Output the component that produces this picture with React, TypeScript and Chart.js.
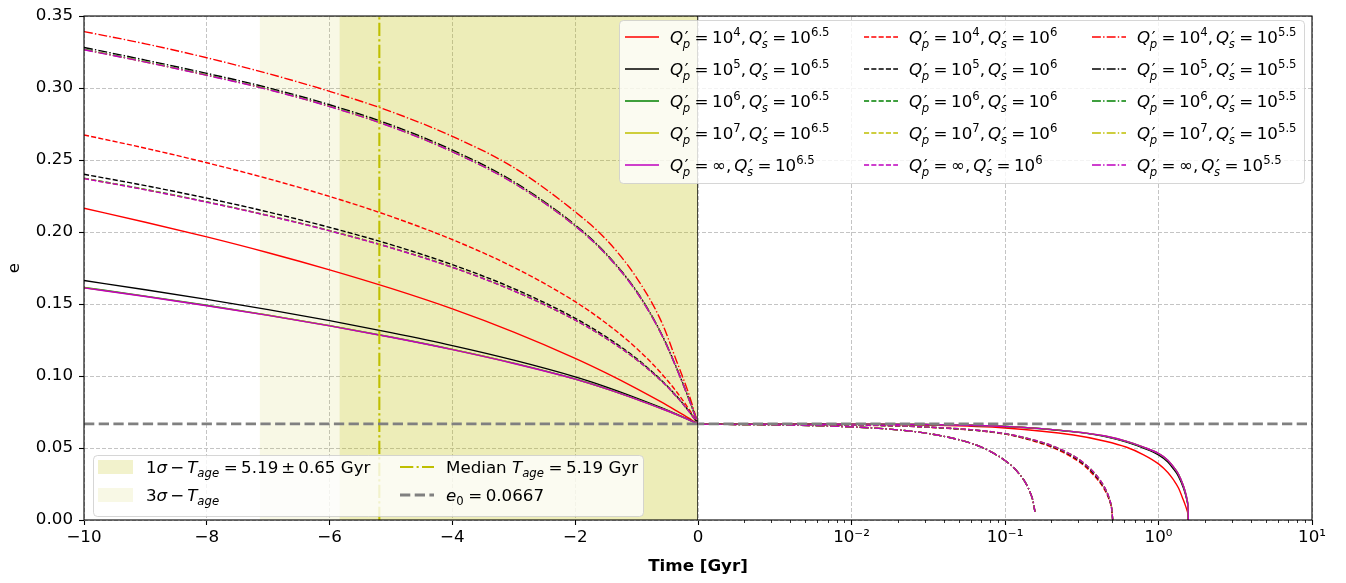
import React, { useEffect, useRef } from 'react';
import { Chart, registerables } from 'chart.js';

Chart.register(...registerables);

const FONT = '"DejaVu Sans"';
const FS = 16.7;

// ---------- axes ----------
const X_LIN_MIN = -10;
const X_LIN_MAX = 0;
const X_LIN_STEP = 2;
const X_LOG_MIN = 0.001;
const X_LOG_MAX = 10;
const Y_MIN = 0;
const Y_MAX = 0.35;
const Y_STEP = 0.05;
const LOG_MAJOR = [0.001, 0.01, 0.1, 1, 10];
const LOG_MAJOR_LABELS = ['', '10⁻²', '10⁻¹', '10⁰', '10¹'];
const LOG_MINOR_MULT = [2, 3, 4, 5, 6, 7, 8, 9];
const LOG_DECADES = [0.001, 0.01, 0.1, 1];

// ---------- reference values ----------
const T_AGE = 5.19;
const T_SIGMA = 0.65;
const E0 = 0.0667;

// ---------- past evolution (linear time axis, Gyr) ----------
const T_PAST = [-10, -9, -8, -7, -6, -5, -4, -3, -2, -1.5, -1, -0.6, -0.35, -0.15, -0.05, 0];

// Q's = 10^6.5 (solid)
const PAST_S65_P4 = [0.2165, 0.2068, 0.1966, 0.1856, 0.1737, 0.1608, 0.1466, 0.1305, 0.1123, 0.1022, 0.0913, 0.0820, 0.0758, 0.0707, 0.0680, 0.0667];
const PAST_S65_P5 = [0.1663, 0.1599, 0.1532, 0.1461, 0.1385, 0.1301, 0.1211, 0.1110, 0.0994, 0.0925, 0.0847, 0.0780, 0.0735, 0.0697, 0.0677, 0.0667];
const PAST_S65_P6 = [0.1615, 0.1555, 0.1491, 0.1423, 0.1350, 0.1271, 0.1185, 0.1089, 0.0979, 0.0913, 0.0839, 0.0775, 0.0732, 0.0695, 0.0677, 0.0667];
const PAST_S65_P7 = [0.1613, 0.1553, 0.1489, 0.1422, 0.1349, 0.1270, 0.1184, 0.1088, 0.0978, 0.0912, 0.0838, 0.0774, 0.0732, 0.0695, 0.0677, 0.0667];
const PAST_S65_PINF = [0.1612, 0.1552, 0.1488, 0.1421, 0.1348, 0.1269, 0.1183, 0.1087, 0.0978, 0.0912, 0.0838, 0.0774, 0.0732, 0.0695, 0.0677, 0.0667];

// Q's = 10^6 (dashed)
const PAST_S6_P4 = [0.2674, 0.2582, 0.2481, 0.2370, 0.2247, 0.2108, 0.1947, 0.1755, 0.1516, 0.1368, 0.1192, 0.1020, 0.0891, 0.0771, 0.0703, 0.0667];
const PAST_S6_P5 = [0.2401, 0.2322, 0.2235, 0.2139, 0.2032, 0.1912, 0.1773, 0.1607, 0.1401, 0.1273, 0.1121, 0.0972, 0.0861, 0.0757, 0.0698, 0.0667];
const PAST_S6_P6 = [0.2374, 0.2296, 0.2210, 0.2115, 0.2010, 0.1892, 0.1756, 0.1592, 0.1389, 0.1263, 0.1114, 0.0968, 0.0858, 0.0756, 0.0698, 0.0667];
const PAST_S6_P7 = [0.2372, 0.2294, 0.2208, 0.2114, 0.2009, 0.1891, 0.1755, 0.1591, 0.1388, 0.1262, 0.1113, 0.0967, 0.0857, 0.0755, 0.0698, 0.0667];
const PAST_S6_PINF = [0.2371, 0.2293, 0.2207, 0.2113, 0.2008, 0.1890, 0.1754, 0.1591, 0.1388, 0.1262, 0.1113, 0.0967, 0.0857, 0.0755, 0.0698, 0.0667];

// Q's = 10^5.5 (dash-dot)
const PAST_S55_P4 = [0.3392, 0.3307, 0.3210, 0.3100, 0.2977, 0.2836, 0.2664, 0.2448, 0.2140, 0.1950, 0.1682, 0.1381, 0.1105, 0.0876, 0.0738, 0.0667];
const PAST_S55_P5 = [0.3282, 0.3194, 0.3102, 0.3002, 0.2884, 0.2744, 0.2569, 0.2349, 0.2049, 0.1852, 0.1589, 0.1297, 0.1057, 0.0843, 0.0728, 0.0667];
const PAST_S55_P6 = [0.3269, 0.3183, 0.3091, 0.2992, 0.2874, 0.2734, 0.2559, 0.2341, 0.2043, 0.1847, 0.1585, 0.1294, 0.1055, 0.0842, 0.0727, 0.0667];
const PAST_S55_P7 = [0.3267, 0.3181, 0.3089, 0.2990, 0.2872, 0.2732, 0.2558, 0.2340, 0.2042, 0.1846, 0.1584, 0.1293, 0.1054, 0.0841, 0.0727, 0.0667];
const PAST_S55_PINF = [0.3266, 0.3180, 0.3088, 0.2989, 0.2871, 0.2731, 0.2557, 0.2339, 0.2041, 0.1845, 0.1583, 0.1293, 0.1054, 0.0841, 0.0727, 0.0667];

// ---------- future evolution (log time axis, Gyr) ----------
const T_FUT_S65 = [0.001, 0.003, 0.01, 0.03, 0.1, 0.28, 0.45, 0.62, 0.8, 1.0, 1.15, 1.25, 1.35, 1.45, 1.5, 1.535, 1.555, 1.565];
const FUT_S65_P4 = [0.0667, 0.0667, 0.0665, 0.0659, 0.0639, 0.0590, 0.0547, 0.0505, 0.0453, 0.0390, 0.0330, 0.0280, 0.0222, 0.0140, 0.0098, 0.0066, 0.0040, 0.0];
const FUT_S65_P5 = [0.0667, 0.0667, 0.0666, 0.0663, 0.0649, 0.0612, 0.0580, 0.0541, 0.0499, 0.0452, 0.0403, 0.0356, 0.0303, 0.0226, 0.0176, 0.0131, 0.0089, 0.0];
const FUT_S65_P6 = [0.0667, 0.0667, 0.0666, 0.0663, 0.0650, 0.0614, 0.0582, 0.0545, 0.0505, 0.0461, 0.0414, 0.0369, 0.0317, 0.0239, 0.0187, 0.0139, 0.0094, 0.0];
const FUT_S65_P7 = [0.0667, 0.0667, 0.0666, 0.0663, 0.0650, 0.0614, 0.0583, 0.0546, 0.0506, 0.0462, 0.0415, 0.0370, 0.0318, 0.0240, 0.0188, 0.0140, 0.0095, 0.0];
const FUT_S65_PINF = [0.0667, 0.0667, 0.0666, 0.0663, 0.0650, 0.0614, 0.0583, 0.0546, 0.0506, 0.0462, 0.0415, 0.0370, 0.0318, 0.0240, 0.0188, 0.0140, 0.0095, 0.0];

const T_FUT_S6 = [0.001, 0.003, 0.01, 0.03, 0.1, 0.169, 0.2, 0.279, 0.33, 0.376, 0.42, 0.46, 0.48, 0.495, 0.503];
const FUT_S6_P4 = [0.0666, 0.0665, 0.0659, 0.0645, 0.0596, 0.0535, 0.0507, 0.0430, 0.0374, 0.0314, 0.0252, 0.0182, 0.0132, 0.0078, 0.0];
const FUT_S6_P5 = [0.0666, 0.0665, 0.0660, 0.0646, 0.0598, 0.0540, 0.0513, 0.0439, 0.0383, 0.0325, 0.0262, 0.0190, 0.0138, 0.0081, 0.0];
const FUT_S6_P6 = [0.0666, 0.0665, 0.0660, 0.0647, 0.0599, 0.0543, 0.0517, 0.0445, 0.0390, 0.0334, 0.0270, 0.0196, 0.0142, 0.0083, 0.0];
const FUT_S6_P7 = [0.0666, 0.0665, 0.0660, 0.0647, 0.0600, 0.0544, 0.0518, 0.0446, 0.0391, 0.0335, 0.0271, 0.0197, 0.0143, 0.0084, 0.0];
const FUT_S6_PINF = [0.0666, 0.0665, 0.0660, 0.0647, 0.0600, 0.0544, 0.0518, 0.0446, 0.0391, 0.0335, 0.0271, 0.0197, 0.0143, 0.0084, 0.0];

const T_FUT_S55 = [0.001, 0.003, 0.0084, 0.0229, 0.04, 0.0622, 0.08, 0.1, 0.115, 0.125, 0.135, 0.146, 0.152, 0.1567];
const FUT_S55_P4 = [0.0665, 0.0661, 0.0650, 0.0620, 0.0581, 0.0528, 0.0477, 0.0413, 0.0359, 0.0314, 0.0265, 0.0190, 0.0135, 0.0057];
const FUT_S55_P5 = [0.0665, 0.0661, 0.0650, 0.0620, 0.0581, 0.0528, 0.0477, 0.0413, 0.0359, 0.0314, 0.0265, 0.0190, 0.0135, 0.0057];
const FUT_S55_P6 = [0.0665, 0.0661, 0.0650, 0.0620, 0.0581, 0.0528, 0.0477, 0.0413, 0.0359, 0.0314, 0.0265, 0.0190, 0.0135, 0.0057];
const FUT_S55_P7 = [0.0665, 0.0661, 0.0650, 0.0620, 0.0581, 0.0528, 0.0477, 0.0413, 0.0359, 0.0314, 0.0265, 0.0190, 0.0135, 0.0057];
const FUT_S55_PINF = [0.0665, 0.0661, 0.0650, 0.0620, 0.0581, 0.0528, 0.0477, 0.0413, 0.0359, 0.0314, 0.0265, 0.0190, 0.0135, 0.0057];

// ---------- series meta ----------
const QP_EXP: (string | null)[] = ['4', '5', '6', '7', null];
const QS_EXP = ['6.5', '6', '5.5'];
const QP_COLORS = ['#ff0000', '#000000', '#008000', '#bfbf00', '#bf00bf'];
const QS_DASH: number[][] = [[], [5.1, 2.2], [8.9, 2.2, 1.4, 2.2]];

const PAST_GROUPS = [
  [PAST_S65_P4, PAST_S65_P5, PAST_S65_P6, PAST_S65_P7, PAST_S65_PINF],
  [PAST_S6_P4, PAST_S6_P5, PAST_S6_P6, PAST_S6_P7, PAST_S6_PINF],
  [PAST_S55_P4, PAST_S55_P5, PAST_S55_P6, PAST_S55_P7, PAST_S55_PINF],
];
const FUT_TIMES = [T_FUT_S65, T_FUT_S6, T_FUT_S55];
const FUT_GROUPS = [
  [FUT_S65_P4, FUT_S65_P5, FUT_S65_P6, FUT_S65_P7, FUT_S65_PINF],
  [FUT_S6_P4, FUT_S6_P5, FUT_S6_P6, FUT_S6_P7, FUT_S6_PINF],
  [FUT_S55_P4, FUT_S55_P5, FUT_S55_P6, FUT_S55_P7, FUT_S55_PINF],
];

const LINE_W = 1.4;
const BAND_1S_COLOR = 'rgba(191,191,0,0.2)';
const BAND_3S_COLOR = 'rgba(191,191,0,0.1)';
const MEDIAN_COLOR = '#bfbf00';
const E0_COLOR = '#808080';
const GRID_COLOR = '#c4c4c4';

const pts = (xs: number[], ys: number[]) => xs.map((x, i) => ({ x, y: ys[i] }));

// ---------- rich text ----------
type Seg =
  | { t: string; i?: boolean; pos?: 'sup' | 'sub' }
  | { g: number }
  | { stack: [string, string] };

const fontStr = (size: number, italic = false, bold = false) =>
  `${italic ? 'italic ' : ''}${bold ? 'bold ' : ''}${size}px ${FONT}`;

function drawRich(ctx: CanvasRenderingContext2D, segs: Seg[], x: number, y: number) {
  let cx = x;
  for (const s of segs) {
    if ('g' in s) {
      cx += s.g;
    } else if ('stack' in s) {
      ctx.font = fontStr(FS);
      ctx.fillText(s.stack[0], cx + 1.5, y);
      const w1 = ctx.measureText(s.stack[0]).width + 1.5;
      ctx.font = fontStr(FS * 0.7, true);
      ctx.fillText(s.stack[1], cx - 0.5, y + FS * 0.3);
      const w2 = ctx.measureText(s.stack[1]).width - 0.5;
      cx += Math.max(w1, w2);
    } else {
      const small = s.pos === 'sup' || s.pos === 'sub';
      ctx.font = fontStr(small ? FS * 0.7 : FS, !!s.i);
      const dy = s.pos === 'sup' ? -FS * 0.42 : s.pos === 'sub' ? FS * 0.24 : 0;
      ctx.fillText(s.t, cx, y + dy);
      cx += ctx.measureText(s.t).width;
    }
  }
}

const EQ: Seg[] = [{ g: 4.5 }, { t: '=' }, { g: 3.5 }];

function qLabel(qp: string | null, qs: string): Seg[] {
  const segs: Seg[] = [{ t: 'Q', i: true }, { stack: ['′', 'p'] }, ...EQ];
  if (qp === null) segs.push({ t: '∞' });
  else segs.push({ t: '10' }, { t: qp, pos: 'sup' });
  segs.push({ t: ',' }, { g: 3 }, { t: 'Q', i: true }, { stack: ['′', 's'] }, ...EQ, { t: '10' }, { t: qs, pos: 'sup' });
  return segs;
}

const LBL_1S: Seg[] = [{ t: '1' }, { t: 'σ', i: true }, { g: 3 }, { t: '−' }, { g: 3 }, { t: 'T', i: true }, { t: 'age', i: true, pos: 'sub' }, ...EQ, { t: `${T_AGE.toFixed(2)}` }, { g: 3 }, { t: '±' }, { g: 3 }, { t: `${T_SIGMA.toFixed(2)} Gyr` }];
const LBL_3S: Seg[] = [{ t: '3' }, { t: 'σ', i: true }, { g: 3 }, { t: '−' }, { g: 3 }, { t: 'T', i: true }, { t: 'age', i: true, pos: 'sub' }];
const LBL_MED: Seg[] = [{ t: 'Median ' }, { t: 'T', i: true }, { t: 'age', i: true, pos: 'sub' }, ...EQ, { t: `${T_AGE.toFixed(2)} Gyr` }];
const LBL_E0: Seg[] = [{ t: 'e', i: true }, { t: '0', pos: 'sub' }, ...EQ, { t: `${E0}` }];

function legendBox(ctx: CanvasRenderingContext2D, x: number, y: number, w: number, h: number) {
  ctx.beginPath();
  (ctx as any).roundRect(x + 0.5, y + 0.5, w, h, 4);
  ctx.fillStyle = 'rgba(255,255,255,0.8)';
  ctx.fill();
  ctx.strokeStyle = 'rgba(204,204,204,0.8)';
  ctx.lineWidth = 1;
  ctx.setLineDash([]);
  ctx.stroke();
}

function handleLine(ctx: CanvasRenderingContext2D, x: number, y: number, len: number, color: string, width: number, dash: number[]) {
  ctx.beginPath();
  ctx.strokeStyle = color;
  ctx.lineWidth = width;
  ctx.setLineDash(dash);
  ctx.moveTo(x, y);
  ctx.lineTo(x + len, y);
  ctx.stroke();
  ctx.setLineDash([]);
}

// ---------- plugins ----------
const splitAxesPlugin = {
  id: 'splitAxes',
  afterLayout(chart: any) {
    const a = chart.chartArea;
    const mid = (a.left + a.right) / 2;
    const pairs: [any, number, number][] = [
      [chart.scales.xLin, a.left, mid],
      [chart.scales.xLog, mid, a.right],
    ];
    for (const [s, l, r] of pairs) {
      s.left = l;
      s.right = r;
      s.width = r - l;
      s.top = a.bottom;
      s.bottom = chart.height;
      s.height = chart.height - a.bottom;
      s.configure();
    }
  },
};

const framePlugin = {
  id: 'frame',
  afterDatasetsDraw(chart: any) {
    const { ctx, chartArea: a } = chart;
    ctx.save();
    ctx.strokeStyle = '#000';
    ctx.lineWidth = 1.1;
    ctx.setLineDash([]);
    ctx.strokeRect(a.left, a.top, a.right - a.left, a.bottom - a.top);
    const xg = chart.scales.xLog;
    ctx.lineWidth = 0.8;
    for (const d of LOG_DECADES) {
      for (const m of LOG_MINOR_MULT) {
        const px = Math.round(xg.getPixelForValue(d * m)) + 0.5;
        ctx.beginPath();
        ctx.moveTo(px, a.bottom);
        ctx.lineTo(px, a.bottom + 3);
        ctx.stroke();
      }
    }
    ctx.restore();
  },
};

const legendPlugin = {
  id: 'customLegends',
  afterDraw(chart: any) {
    const { ctx, chartArea: a } = chart;
    ctx.save();
    ctx.textBaseline = 'alphabetic';
    ctx.textAlign = 'left';

    // upper-right legend
    legendBox(ctx, 619, 20, 685, 163);
    const colHandle = [625, 864, 1092];
    for (let c = 0; c < 3; c++) {
      for (let r = 0; r < 5; r++) {
        const yc = 37 + r * 32;
        handleLine(ctx, colHandle[c], yc, 34, QP_COLORS[r], LINE_W, QS_DASH[c]);
        ctx.fillStyle = '#000';
        drawRich(ctx, qLabel(QP_EXP[r], QS_EXP[c]), colHandle[c] + 45, yc + 6);
      }
    }

    // lower-left legend
    legendBox(ctx, 93, 455, 550, 61);
    const r1 = 467, r2 = 495;
    ctx.fillStyle = BAND_1S_COLOR;
    ctx.fillRect(98, r1 - 7, 35, 14);
    ctx.fillStyle = BAND_3S_COLOR;
    ctx.fillRect(98, r2 - 7, 35, 14);
    ctx.fillStyle = '#000';
    drawRich(ctx, LBL_1S, 146, r1 + 6);
    drawRich(ctx, LBL_3S, 146, r2 + 6);
    handleLine(ctx, 400, r1, 34, MEDIAN_COLOR, 2.1, [13.3, 3.3, 2.1, 3.3]);
    handleLine(ctx, 400, r2, 34, E0_COLOR, 2.8, [10.3, 4.4]);
    ctx.fillStyle = '#000';
    drawRich(ctx, LBL_MED, 446, r1 + 6);
    drawRich(ctx, LBL_E0, 446, r2 + 6);

    // axis titles
    ctx.fillStyle = '#000';
    ctx.font = fontStr(FS, false, true);
    ctx.textAlign = 'center';
    ctx.fillText('Time [Gyr]', (a.left + a.right) / 2, 571);
    ctx.translate(19, (a.top + a.bottom) / 2);
    ctx.rotate(-Math.PI / 2);
    ctx.font = fontStr(FS);
    ctx.fillText('e', 0, 0);
    ctx.restore();
  },
};

// ---------- datasets ----------
function buildDatasets() {
  const list: any[] = [];
  // bands
  list.push({
    data: [{ x: -(T_AGE + 3 * T_SIGMA), y: Y_MAX }, { x: 0, y: Y_MAX }],
    xAxisID: 'xLin', yAxisID: 'y', borderWidth: 0, pointRadius: 0,
    backgroundColor: BAND_3S_COLOR, fill: 'origin',
  });
  list.push({
    data: [{ x: -(T_AGE + T_SIGMA), y: Y_MAX }, { x: 0, y: Y_MAX }],
    xAxisID: 'xLin', yAxisID: 'y', borderWidth: 0, pointRadius: 0,
    backgroundColor: BAND_1S_COLOR, fill: 'origin',
  });
  // curves
  for (let s = 0; s < 3; s++) {
    for (let p = 0; p < 5; p++) {
      const common = {
        borderColor: QP_COLORS[p], borderWidth: LINE_W, borderDash: QS_DASH[s],
        pointRadius: 0, fill: false, cubicInterpolationMode: 'monotone', yAxisID: 'y',
      };
      list.push({ ...common, xAxisID: 'xLin', data: pts(T_PAST, PAST_GROUPS[s][p]) });
      list.push({ ...common, xAxisID: 'xLog', data: pts(FUT_TIMES[s], FUT_GROUPS[s][p]) });
    }
  }
  // reference lines
  list.push({
    data: [{ x: 0, y: Y_MIN }, { x: 0, y: Y_MAX }], xAxisID: 'xLin', yAxisID: 'y',
    borderColor: '#000', borderWidth: 1.4, pointRadius: 0, fill: false,
  });
  list.push({
    data: [{ x: -T_AGE, y: Y_MIN }, { x: -T_AGE, y: Y_MAX }], xAxisID: 'xLin', yAxisID: 'y',
    borderColor: MEDIAN_COLOR, borderWidth: 2.1, borderDash: [13.3, 3.3, 2.1, 3.3], pointRadius: 0, fill: false,
  });
  list.push({
    data: [{ x: X_LIN_MIN, y: E0 }, { x: X_LIN_MAX, y: E0 }], xAxisID: 'xLin', yAxisID: 'y',
    borderColor: E0_COLOR, borderWidth: 2.8, borderDash: [10.3, 4.4], pointRadius: 0, fill: false,
  });
  list.push({
    data: [{ x: X_LOG_MIN, y: E0 }, { x: X_LOG_MAX, y: E0 }], xAxisID: 'xLog', yAxisID: 'y',
    borderColor: E0_COLOR, borderWidth: 2.8, borderDash: [10.3, 4.4], borderDashOffset: 4, pointRadius: 0, fill: false,
  });
  const n = list.length;
  list.forEach((d, i) => { d.order = n - i; });
  return list;
}

const isMajorLog = (v: number) => LOG_MAJOR.some((m) => Math.abs(v - m) < m * 1e-6);

export default function App() {
  const ref = useRef<HTMLCanvasElement>(null);
  useEffect(() => {
    const tickFont = { family: 'DejaVu Sans', size: FS };
    const gridBase = {
      color: GRID_COLOR, lineWidth: 1, borderDash: [4, 2],
      tickColor: '#000', tickLength: 5, tickWidth: 1.1, tickBorderDash: [],
    };
    const borderBase = { display: false, dash: [4, 2] };
    const chart = new Chart(ref.current!, {
      type: 'line',
      data: { datasets: buildDatasets() },
      options: {
        responsive: false,
        animation: false,
        devicePixelRatio: 1,
        events: [],
        layout: { padding: { top: 12, right: 34, left: 0, bottom: 0 } },
        plugins: { legend: { display: false }, tooltip: { enabled: false }, title: { display: false } },
        scales: {
          xLin: {
            type: 'linear', axis: 'x', position: 'bottom',
            min: X_LIN_MIN, max: X_LIN_MAX,
            ticks: {
              stepSize: X_LIN_STEP, font: tickFont, color: '#000', padding: 3, maxRotation: 0,
              callback: (v: any) => (Number(v) < 0 ? '−' + Math.abs(Number(v)) : String(v)),
            },
            grid: gridBase,
            border: borderBase,
            afterFit: (s: any) => { s.height = 63; },
          },
          xLog: {
            type: 'logarithmic', axis: 'x', position: 'bottom',
            min: X_LOG_MIN, max: X_LOG_MAX,
            afterBuildTicks: (s: any) => {
              s.ticks = LOG_MAJOR.map((v) => ({ value: v }));
            },
            ticks: {
              font: tickFont, color: '#000', padding: 3, autoSkip: false, maxRotation: 0, minRotation: 0,
              callback: (v: any) => {
                const idx = LOG_MAJOR.findIndex((m) => Math.abs(Number(v) - m) < m * 1e-6);
                return idx >= 0 ? LOG_MAJOR_LABELS[idx] : '';
              },
            },
            grid: {
              ...gridBase,
              color: (c: any) => (c.tick && isMajorLog(c.tick.value) && c.tick.value > X_LOG_MIN * 1.5 ? GRID_COLOR : 'rgba(0,0,0,0)'),
              tickColor: (c: any) => (c.tick && c.tick.value > X_LOG_MIN * 1.5 ? '#000' : 'rgba(0,0,0,0)'),
            },
            border: borderBase,
            afterFit: (s: any) => { s.height = 0; },
          },
          y: {
            type: 'linear', axis: 'y', position: 'left',
            min: Y_MIN, max: Y_MAX,
            ticks: {
              stepSize: Y_STEP, font: tickFont, color: '#000', padding: 6,
              callback: (v: any) => Number(v).toFixed(2),
            },
            grid: gridBase,
            border: borderBase,
            afterFit: (s: any) => { s.width = 84; },
          },
        },
      } as any,
      plugins: [splitAxesPlugin, framePlugin, legendPlugin],
    } as any);
    return () => chart.destroy();
  }, []);
  return (
    <div style={{ position: 'absolute', left: 0, top: 0, width: 1346, height: 583, background: '#fff' }}>
      <canvas ref={ref} width={1346} height={583} style={{ display: 'block' }} />
    </div>
  );
}
